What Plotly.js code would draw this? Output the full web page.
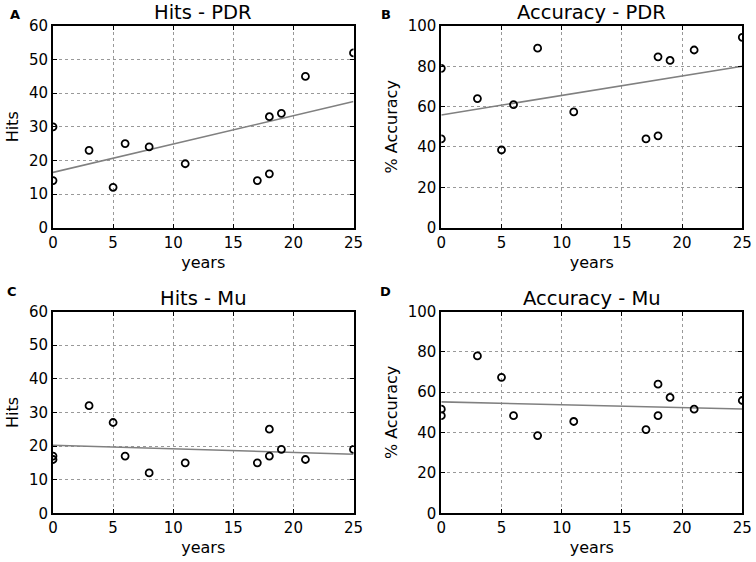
<!DOCTYPE html>
<html>
<head>
<meta charset="utf-8">
<script src="https://cdn.plot.ly/plotly-3.0.1.min.js"></script>
<style>html,body{margin:0;padding:0;background:#fff;}#chart{width:756px;height:562px;}</style>
</head>
<body>
<div id="chart"></div>
<script>
// ---- data ----
const years    = [0, 0, 3, 5, 6, 8, 11, 17, 18, 18, 19, 21, 25];
const hitsPDR  = [30, 14, 23, 12, 25, 24, 19, 14, 33, 16, 34, 45, 52];
const accPDR   = [79, 44, 64, 38.5, 61, 89, 57.4, 44, 84.7, 45.5, 82.9, 88.1, 94.4];
const hitsMu   = [17, 16, 32, 27, 17, 12, 15, 15, 25, 17, 19, 16, 19];
const accMu    = [51.6, 48.4, 78, 67.4, 48.4, 38.5, 45.5, 41.5, 64, 48.4, 57.4, 51.6, 55.9];

const panelTitles  = ['Hits - PDR', 'Accuracy - PDR', 'Hits - Mu', 'Accuracy - Mu'];
const panelLetters = ['A', 'B', 'C', 'D'];
const yLabels      = ['Hits', '% Accuracy', 'Hits', '% Accuracy'];
const xLabel       = 'years';
const xTicks       = [0, 5, 10, 15, 20, 25];
const hitsTicks    = [0, 10, 20, 30, 40, 50, 60];
const accTicks     = [0, 20, 40, 60, 80, 100];

// least-squares fit line through the scatter points
function fitLine(x, y) {
  const n = x.length;
  const mx = x.reduce((a, b) => a + b, 0) / n;
  const my = y.reduce((a, b) => a + b, 0) / n;
  let sxy = 0, sxx = 0;
  for (let i = 0; i < n; i++) { sxy += (x[i] - mx) * (y[i] - my); sxx += (x[i] - mx) ** 2; }
  const b = sxy / sxx, a = my - b * mx;
  const x0 = Math.min(...x), x1 = Math.max(...x);
  return { x: [x0, x1], y: [a + b * x0, a + b * x1] };
}

const series = [hitsPDR, accPDR, hitsMu, accMu];
const yTickSets = [hitsTicks, accTicks, hitsTicks, accTicks];

const W = 756, H = 562;
const xDomains = [[53 / W, 353.5 / W], [441.3 / W, 742.3 / W]];
const yDomains = [[1 - 227.6 / H, 1 - 26 / H], [1 - 513.3 / H, 1 - 311.5 / H]];

const FONT = 'DejaVu Sans, sans-serif';
const traces = [];
const layout = {
  width: W, height: H,
  margin: { l: 0, r: 0, t: 0, b: 0 },
  paper_bgcolor: '#ffffff', plot_bgcolor: '#ffffff',
  showlegend: false,
  font: { family: FONT, color: '#000', size: 15 },
  annotations: []
};

const letterPos = [[15, 14.5], [385.5, 14], [12, 291], [385.5, 291.5]];

for (let k = 0; k < 4; k++) {
  const col = k % 2, row = Math.floor(k / 2);
  const xa = 'x' + (k === 0 ? '' : k + 1), ya = 'y' + (k === 0 ? '' : k + 1);
  const fit = fitLine(years, series[k]);
  traces.push({
    x: fit.x, y: fit.y, xaxis: xa, yaxis: ya, type: 'scatter', mode: 'lines',
    line: { color: '#808080', width: 1.6 }, hoverinfo: 'skip'
  });
  traces.push({
    x: years, y: series[k], xaxis: xa, yaxis: ya, type: 'scatter', mode: 'markers',
    cliponaxis: true,
    marker: { symbol: 'circle-open', size: 7, color: '#000', line: { color: '#000', width: 1.8 } }
  });
  const yTicks = yTickSets[k];
  const axBase = {
    showline: true, linecolor: '#000', linewidth: 2, mirror: 'ticks',
    ticks: 'inside', ticklen: 4, tickwidth: 1, tickcolor: '#000',
    showgrid: true, gridcolor: '#999999', gridwidth: 1, griddash: 'dot',
    zeroline: false, tickfont: { family: FONT, size: 15, color: '#000' }, automargin: false
  };
  layout['xaxis' + (k === 0 ? '' : k + 1)] = Object.assign({}, axBase, {
    domain: xDomains[col], anchor: ya, range: [xTicks[0], xTicks[xTicks.length - 1]],
    tickvals: xTicks, ticktext: xTicks.map(String),
    title: { text: xLabel, font: { family: FONT, size: 16, color: '#000' }, standoff: 6 }
  });
  layout['yaxis' + (k === 0 ? '' : k + 1)] = Object.assign({}, axBase, {
    domain: yDomains[row], anchor: xa, range: [yTicks[0], yTicks[yTicks.length - 1]],
    tickvals: yTicks, ticktext: yTicks.map(String),
    title: { text: yLabels[k], font: { family: FONT, size: 16, color: '#000' }, standoff: 6 }
  });
  layout.annotations.push({
    text: panelTitles[k], showarrow: false,
    xref: 'paper', yref: 'paper',
    x: (xDomains[col][0] + xDomains[col][1]) / 2, y: yDomains[row][1],
    xanchor: 'center', yanchor: 'bottom', yshift: 0,
    font: { family: FONT, size: 19.5, color: '#000' }
  });
  layout.annotations.push({
    text: '<b>' + panelLetters[k] + '</b>', showarrow: false,
    xref: 'paper', yref: 'paper',
    x: letterPos[k][0] / W, y: 1 - letterPos[k][1] / H,
    xanchor: 'center', yanchor: 'middle',
    font: { family: FONT, size: 13, color: '#000' }
  });
}

Plotly.newPlot('chart', traces, layout, { staticPlot: true, displayModeBar: false });
</script>
</body>
</html>
